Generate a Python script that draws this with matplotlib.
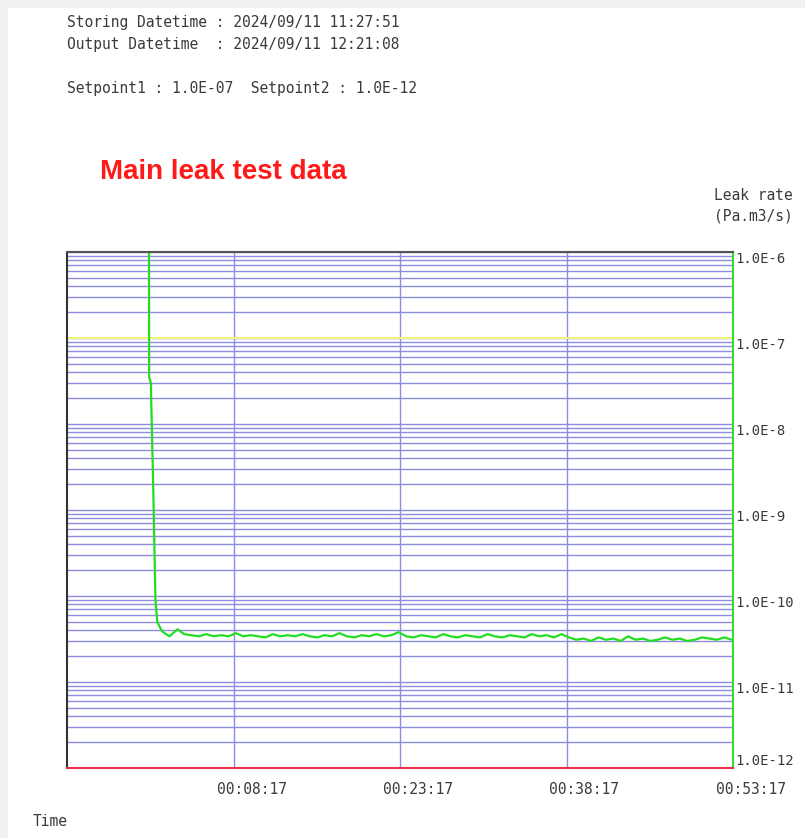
##################################
# Leak rate chart (main leak test)

import numpy as np
import matplotlib.pyplot as plt
from matplotlib.ticker import LogLocator, FixedLocator, NullFormatter
from matplotlib.transforms import ScaledTranslation

##################################
# Data

# header text
storing_dt = '2024/09/11 11:27:51'
output_dt = '2024/09/11 12:21:08'
setpoint1 = 1.0e-7
setpoint2 = 1.0e-12

# time axis (seconds)
x_min, x_max = -403, 3197
x_ticks = [497, 1397, 2297, 3197]
x_labels = ['00:08:17', '00:23:17', '00:38:17', '00:53:17']

# leak rate axis
y_ticks = [1e-6, 1e-7, 1e-8, 1e-9, 1e-10, 1e-11, 1e-12]
y_labels = ['1.0E-6', '1.0E-7', '1.0E-8', '1.0E-9', '1.0E-10', '1.0E-11', '1.0E-12']

# pump-down part of the curve
t_start = [40, 41, 51, 52, 63, 75, 85, 110, 150, 195, 230]
leak_start = [1e-5, 3.5e-8, 3.0e-8, 2.0e-8, 1.9e-9, 9.0e-11, 5.0e-11,
              3.9e-11, 3.4e-11, 4.1e-11, 3.6e-11]

# steady part, every 40 s (values x 1e-11)
t_tail = np.arange(270, 3191, 40)
leak_tail = [3.5, 3.4, 3.6, 3.4, 3.5, 3.4, 3.7, 3.4, 3.5, 3.4, 3.3, 3.6, 3.4, 3.5, 3.4,
             3.6, 3.4, 3.3, 3.5, 3.4, 3.7, 3.4, 3.3, 3.5, 3.4, 3.6, 3.4, 3.5, 3.8,
             3.4, 3.3, 3.5, 3.4, 3.3, 3.6, 3.4, 3.3, 3.5, 3.4, 3.3, 3.6, 3.4, 3.3,
             3.5, 3.4, 3.3, 3.6, 3.4, 3.5, 3.3, 3.6,
             3.3, 3.1, 3.2, 3.0, 3.3, 3.1, 3.2, 3.0, 3.4, 3.1, 3.2, 3.0, 3.1, 3.3,
             3.1, 3.2, 3.0, 3.1, 3.3, 3.2, 3.1, 3.3, 3.1]

t = np.concatenate([t_start, t_tail])
leak = np.concatenate([leak_start, np.array(leak_tail) * 1e-11])

##################################
# Figure

mono = 'DejaVu Sans Mono'
txt_col = '#3a3a3a'

fig = plt.figure(figsize=(8.05, 8.38), dpi=100, facecolor='#f1f1f1')
# white page inside a thin grey border
fig.patches.append(plt.Rectangle((8 / 805, 0), 1, 1 - 8 / 838, transform=fig.transFigure,
                                 facecolor='white', edgecolor='none', zorder=-1))

fig.text(67 / 805, 1 - 23 / 838, 'Storing Datetime : ' + storing_dt, family=mono,
         fontsize=10.5, color=txt_col, va='center')
fig.text(67 / 805, 1 - 45 / 838, 'Output Datetime  : ' + output_dt, family=mono,
         fontsize=10.5, color=txt_col, va='center')
fig.text(67 / 805, 1 - 89 / 838, 'Setpoint1 : 1.0E-07  Setpoint2 : 1.0E-12', family=mono,
         fontsize=10.5, color=txt_col, va='center')
fig.text(100 / 805, 1 - 172 / 838, 'Main leak test data', family='Liberation Sans',
         fontweight='bold', fontsize=20, color='#ff1a1a', va='center')
fig.text(793 / 805, 1 - 196 / 838, 'Leak rate', family=mono, fontsize=10.5,
         color=txt_col, ha='right', va='center')
fig.text(793 / 805, 1 - 216 / 838, '(Pa.m3/s)', family=mono, fontsize=10.5,
         color=txt_col, ha='right', va='center')
fig.text(33 / 805, 1 - 821 / 838, 'Time', family=mono, fontsize=10.5,
         color=txt_col, va='center')

ax = fig.add_axes([67 / 805, 1 - 768 / 838, (733 - 67) / 805, (768 - 252) / 838])
ax.set_facecolor('white')

# main plot
ax.plot(t, leak, color='#22dd22', lw=1.6, zorder=4)
ax.axhline(setpoint1, color='#f2f27a', lw=1.5, zorder=3)

ax.set_yscale('log')
ax.set_ylim(setpoint2, 1e-6)
ax.set_xlim(x_min, x_max)

# grid
ax.yaxis.set_major_locator(FixedLocator(y_ticks))
ax.yaxis.set_minor_locator(LogLocator(base=10, subs=np.arange(2, 10)))
ax.yaxis.set_minor_formatter(NullFormatter())
ax.set_yticklabels(y_labels)
ax.set_xticks(x_ticks)
ax.set_xticklabels(x_labels)
ax.grid(True, which='both', axis='y', color='#8c8ce0', lw=1.0, zorder=1)
ax.grid(True, which='major', axis='x', color='#8c8ce0', lw=1.0, zorder=1)

ax.yaxis.tick_right()
ax.tick_params(axis='y', which='both', length=0, pad=2, labelsize=10, labelcolor=txt_col)
ax.tick_params(axis='x', length=0, pad=10, labelsize=10.5, labelcolor=txt_col)
for lab in ax.get_yticklabels():
    lab.set_family(mono)
    lab.set_va('top')
ax.get_yticklabels()[-1].set_va('bottom')
shift = ScaledTranslation(18 / 100, 0, fig.dpi_scale_trans)
for lab in ax.get_xticklabels():
    lab.set_family(mono)
    lab.set_transform(lab.get_transform() + shift)

# frame
ax.spines['left'].set_color('#333333')
ax.spines['top'].set_color('#555555')
ax.spines['right'].set_color('#33dd33')
ax.spines['bottom'].set_color('#e8304a')
for s in ax.spines.values():
    s.set_linewidth(1.5)
    s.set_zorder(5)

plt.savefig('out.png', dpi=100, facecolor=fig.get_facecolor())
